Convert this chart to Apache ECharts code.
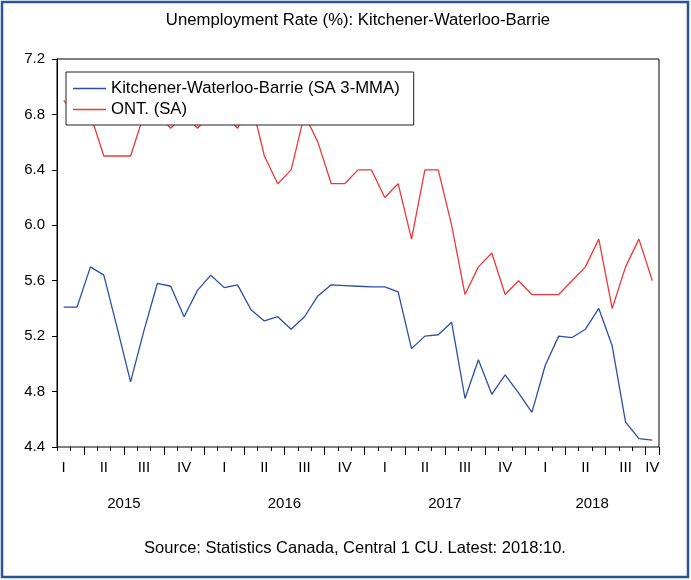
<!DOCTYPE html>
<html>
<head>
<meta charset="utf-8">
<script src="https://cdn.jsdelivr.net/npm/echarts@6/dist/echarts.min.js"></script>
<style>
html,body{margin:0;padding:0;background:#fff;}
#chart{width:691px;height:580px;}
</style>
</head>
<body>
<div id="chart"></div>
<script>
// Monthly observations, 2015:02 .. 2018:10
const months = [
  '2015:02','2015:03','2015:04','2015:05','2015:06','2015:07','2015:08','2015:09','2015:10','2015:11','2015:12',
  '2016:01','2016:02','2016:03','2016:04','2016:05','2016:06','2016:07','2016:08','2016:09','2016:10','2016:11','2016:12',
  '2017:01','2017:02','2017:03','2017:04','2017:05','2017:06','2017:07','2017:08','2017:09','2017:10','2017:11','2017:12',
  '2018:01','2018:02','2018:03','2018:04','2018:05','2018:06','2018:07','2018:08','2018:09','2018:10'
];
const kwb = [
  5.41, 5.41, 5.70, 5.64, 5.26, 4.87, 5.24, 5.58, 5.56, 5.34, 5.53,
  5.64, 5.55, 5.57, 5.39, 5.31, 5.34, 5.25, 5.34, 5.49, 5.57, 5.565, 5.56,
  5.555, 5.555, 5.52, 5.11, 5.20, 5.21, 5.30, 4.75, 5.03, 4.78, 4.92, 4.79,
  4.65, 4.99, 5.20, 5.19, 5.25, 5.40, 5.13, 4.58, 4.46, 4.45
];
const ont = [
  6.9, 6.8, 6.8, 6.5, 6.5, 6.5, 6.8, 6.8, 6.7, 6.8, 6.7,
  6.8, 6.8, 6.7, 6.9, 6.5, 6.3, 6.4, 6.8, 6.6, 6.3, 6.3, 6.4,
  6.4, 6.2, 6.3, 5.9, 6.4, 6.4, 6.0, 5.5, 5.7, 5.8, 5.5, 5.6,
  5.5, 5.5, 5.5, 5.6, 5.7, 5.9, 5.4, 5.7, 5.9, 5.6
];
const quarterNames = ['I','II','III','IV'];
const years = ['2015','2016','2017','2018'];
const seriesNames = ['Kitchener-Waterloo-Barrie (SA 3-MMA)', 'ONT. (SA)'];
const titleText = 'Unemployment Rate (%): Kitchener-Waterloo-Barrie';
const sourceText = 'Source: Statistics Canada, Central 1 CU. Latest: 2018:10.';
const yMin = 4.4, yMax = 7.2, yStep = 0.4;

const FONT = '"Liberation Sans", Arial, sans-serif';
const n = months.length;

// quarter label for each observation (middle month of quarter, and last obs)
function quarterLabel(idx) {
  const m = parseInt(months[idx].split(':')[1], 10) - 1;
  if (m % 3 === 1 || idx === n - 1) return quarterNames[Math.floor(m / 3)];
  return '';
}
// year labels placed on period boundaries (n+1 boundaries)
const yearAxisData = [];
for (let k = 0; k <= n; k++) yearAxisData.push('');
years.forEach(function (y, j) {
  const start = j * 12 - 1;
  const end = Math.min(start + 12, n);
  yearAxisData[Math.floor((start + end) / 2)] = y;
});

const chart = echarts.init(document.getElementById('chart'), null, {renderer: 'canvas'});
const grid = {left: 57, right: 32, top: 59, bottom: 133, show: true, borderColor: '#000', borderWidth: 1, backgroundColor: 'transparent'};

chart.setOption({
  animation: false,
  backgroundColor: '#fff',
  grid: grid,
  legend: {
    left: 66, top: 72, orient: 'vertical',
    icon: 'rect',
    itemWidth: 33, itemHeight: 1.5, itemGap: 2,
    padding: [7, 14, 6, 7],
    borderColor: '#222', borderWidth: 1, backgroundColor: '#fff',
    textStyle: {fontSize: 16.7, lineHeight: 19, fontFamily: FONT, color: '#000'},
    data: seriesNames
  },
  xAxis: [
    {
      type: 'category', data: months, boundaryGap: true, position: 'bottom',
      axisLine: {show: false},
      axisTick: {show: true, interval: 0, length: 4, lineStyle: {color: '#000'}},
      axisLabel: {
        interval: function (idx) { return quarterLabel(idx) !== ''; },
        formatter: function (v, idx) { return quarterLabel(idx); },
        margin: 13, fontSize: 15, fontFamily: FONT, color: '#000'
      },
      splitLine: {show: false}
    },
    {
      type: 'category', data: months, boundaryGap: true, position: 'bottom',
      axisLine: {show: false},
      axisTick: {show: true, interval: function (idx) { return idx % 3 === 2; }, length: 8, lineStyle: {color: '#000'}},
      axisLabel: {show: false},
      splitLine: {show: false}
    },
    {
      type: 'category', data: yearAxisData, boundaryGap: false, position: 'bottom',
      axisLine: {show: false},
      axisTick: {show: false},
      axisLabel: {
        interval: function (idx, v) { return v !== ''; },
        margin: 49, fontSize: 15, fontFamily: FONT, color: '#000'
      },
      splitLine: {show: false}
    }
  ],
  yAxis: {
    type: 'value', min: yMin, max: yMax, interval: yStep,
    axisLine: {show: true, lineStyle: {color: '#000'}},
    axisTick: {show: true, length: 5, lineStyle: {color: '#000'}},
    axisLabel: {
      margin: 12, fontSize: 15, fontFamily: FONT, color: '#000',
      formatter: function (v) { return v.toFixed(1); }
    },
    splitLine: {show: false}
  },
  series: [
    {
      name: seriesNames[0], type: 'line', data: kwb, xAxisIndex: 0,
      symbol: 'none', lineStyle: {color: '#2d4ea6', width: 1.3}, itemStyle: {color: '#2d4ea6'}, z: 3
    },
    {
      name: seriesNames[1], type: 'line', data: ont, xAxisIndex: 0,
      symbol: 'none', lineStyle: {color: '#f0383a', width: 1.3}, itemStyle: {color: '#f0383a'}, z: 3
    }
  ],
  graphic: [
    {
      type: 'text', x: 358, y: 20, silent: true,
      style: {text: titleText, fill: '#000', font: '16.7px ' + FONT, align: 'center', verticalAlign: 'middle', textAlign: 'center', textVerticalAlign: 'middle'}
    },
    {
      type: 'text', x: 355, y: 548, silent: true,
      style: {text: sourceText, fill: '#000', font: '16.5px ' + FONT, align: 'center', verticalAlign: 'middle', textAlign: 'center', textVerticalAlign: 'middle'}
    },
    {
      type: 'rect', silent: true,
      shape: {x: 2, y: 2, width: 686, height: 575},
      style: {fill: 'none', stroke: '#2a5494', lineWidth: 2.5}
    }
  ]
});
</script>
</body>
</html>
